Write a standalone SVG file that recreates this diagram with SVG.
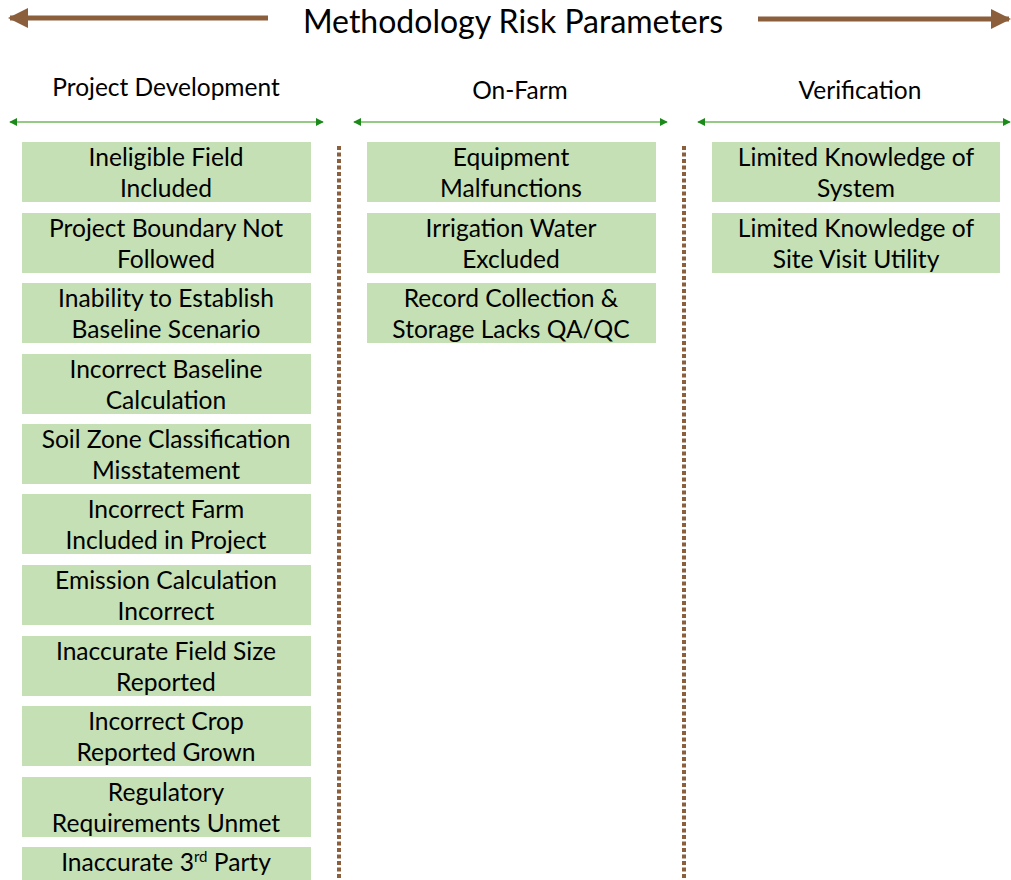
<svg xmlns="http://www.w3.org/2000/svg" width="1011" height="880" viewBox="0 0 1011 880">
<defs>
<style>
.t{font-family:Lato,"Open Sans","Liberation Sans",sans-serif;fill:#000;text-anchor:middle}
.b{font-size:24.6px}
.h{font-size:24.5px}
.box{fill:#c5e0b4}
.brown{stroke:#8b5e3c;stroke-width:5;fill:none}
.green{stroke:#70b85a;stroke-width:1.5;fill:none}
.dot{stroke:#8b5e3c;stroke-width:4;stroke-dasharray:4 2.5;fill:none}
</style>
<marker id="ba" viewBox="0 0 10 10" refX="9" refY="5" markerWidth="4" markerHeight="4" orient="auto-start-reverse"><path d="M0,0 L10,5 L0,10 z" fill="#8b5e3c"/></marker>
<marker id="ga" viewBox="0 0 10 10" refX="9" refY="5" markerWidth="8" markerHeight="8" markerUnits="userSpaceOnUse" orient="auto-start-reverse"><path d="M0,0 L10,5 L0,10 z" fill="#1a8a1a"/></marker>
</defs>
<rect width="1011" height="880" fill="#fff"/>
<g id="connectors">
<line class="brown" x1="268" y1="18" x2="10" y2="18" marker-end="url(#ba)"/>
<line class="brown" x1="758" y1="19" x2="1009" y2="19" marker-end="url(#ba)"/>
<line class="green" x1="10" y1="122" x2="323" y2="122" marker-start="url(#ga)" marker-end="url(#ga)"/>
<line class="green" x1="354" y1="122" x2="667" y2="122" marker-start="url(#ga)" marker-end="url(#ga)"/>
<line class="green" x1="698" y1="122" x2="1010" y2="122" marker-start="url(#ga)" marker-end="url(#ga)"/>
<line class="dot" x1="339" y1="146" x2="339" y2="880"/>
<line class="dot" x1="684" y1="146" x2="684" y2="880"/>
</g>
<g id="title"><text class="t" x="513" y="33" font-size="32px">Methodology Risk Parameters</text></g>
<g id="h1"><text class="t h" x="166" y="96">Project Development</text></g>
<g id="h2"><text class="t h" x="520" y="99">On-Farm</text></g>
<g id="h3"><text class="t h" x="860" y="99">Verification</text></g>
<g id="n1"><rect class="box" x="22" y="142" width="289" height="60"/><text class="t b" x="166" y="166">Ineligible Field</text><text class="t b" x="166" y="197">Included</text></g>
<g id="n2"><rect class="box" x="22" y="213" width="289" height="60"/><text class="t b" x="166" y="237">Project Boundary Not</text><text class="t b" x="166" y="268">Followed</text></g>
<g id="n3"><rect class="box" x="22" y="283" width="289" height="60"/><text class="t b" x="166" y="307">Inability to Establish</text><text class="t b" x="166" y="338">Baseline Scenario</text></g>
<g id="n4"><rect class="box" x="22" y="354" width="289" height="60"/><text class="t b" x="166" y="378">Incorrect Baseline</text><text class="t b" x="166" y="409">Calculation</text></g>
<g id="n5"><rect class="box" x="22" y="424" width="289" height="60"/><text class="t b" x="166" y="448">Soil Zone Classification</text><text class="t b" x="166" y="479">Misstatement</text></g>
<g id="n6"><rect class="box" x="22" y="494" width="289" height="60"/><text class="t b" x="166" y="518">Incorrect Farm</text><text class="t b" x="166" y="549">Included in Project</text></g>
<g id="n7"><rect class="box" x="22" y="565" width="289" height="60"/><text class="t b" x="166" y="589">Emission Calculation</text><text class="t b" x="166" y="620">Incorrect</text></g>
<g id="n8"><rect class="box" x="22" y="636" width="289" height="60"/><text class="t b" x="166" y="660">Inaccurate Field Size</text><text class="t b" x="166" y="691">Reported</text></g>
<g id="n9"><rect class="box" x="22" y="706" width="289" height="60"/><text class="t b" x="166" y="730">Incorrect Crop</text><text class="t b" x="166" y="761">Reported Grown</text></g>
<g id="n10"><rect class="box" x="22" y="777" width="289" height="60"/><text class="t b" x="166" y="801">Regulatory</text><text class="t b" x="166" y="832">Requirements Unmet</text></g>
<g id="n11"><rect class="box" x="22" y="847" width="289" height="40"/><text class="t b" x="166" y="871">Inaccurate 3<tspan font-size="15" dy="-9">rd</tspan><tspan dy="9"> Party</tspan></text></g>
<g id="m1"><rect class="box" x="367" y="142" width="289" height="60"/><text class="t b" x="511" y="166">Equipment</text><text class="t b" x="511" y="197">Malfunctions</text></g>
<g id="m2"><rect class="box" x="367" y="213" width="289" height="60"/><text class="t b" x="511" y="237">Irrigation Water</text><text class="t b" x="511" y="268">Excluded</text></g>
<g id="m3"><rect class="box" x="367" y="283" width="289" height="60"/><text class="t b" x="511" y="307">Record Collection &amp;</text><text class="t b" x="511" y="338">Storage Lacks QA/QC</text></g>
<g id="v1"><rect class="box" x="712" y="142" width="288" height="60"/><text class="t b" x="856" y="166">Limited Knowledge of</text><text class="t b" x="856" y="197">System</text></g>
<g id="v2"><rect class="box" x="712" y="213" width="288" height="60"/><text class="t b" x="856" y="237">Limited Knowledge of</text><text class="t b" x="856" y="268">Site Visit Utility</text></g>
</svg>
